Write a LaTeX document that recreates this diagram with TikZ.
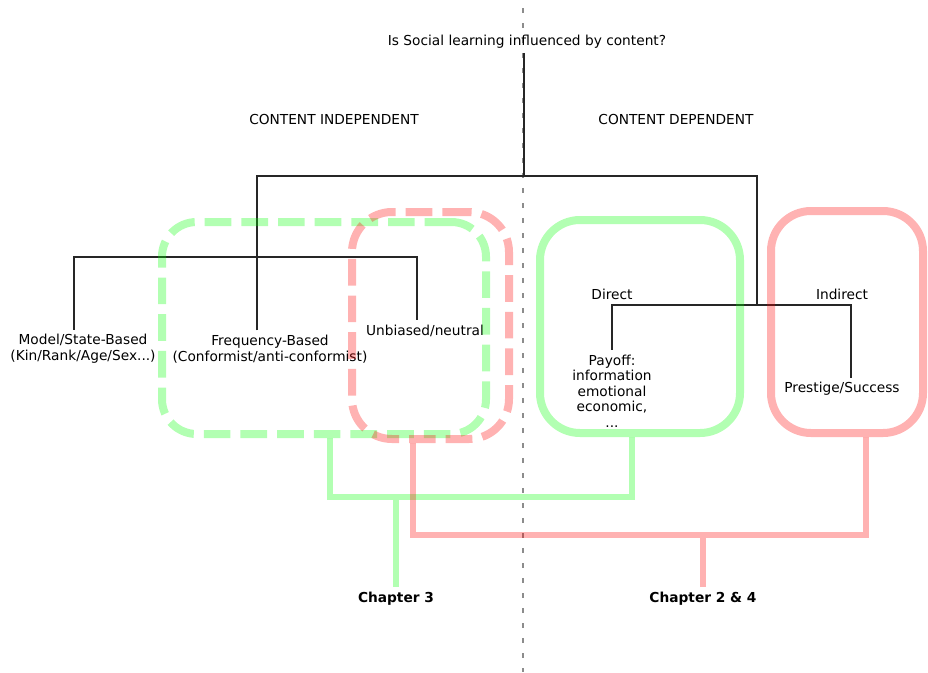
\documentclass[tikz,border=0pt]{standalone}
\usepackage{fontspec}
\setmainfont{DejaVu Sans}
\usetikzlibrary{fit}

\tikzset{
	txt/.style={align=center, font=\fontsize{10.3}{11.7}\selectfont},
	chap/.style={align=center, font=\fontsize{10.3}{11.7}\selectfont\bfseries},
	treeline/.style={draw=black!85, line width=0.9pt},
	divider/.style={draw=black!45, line width=1.6pt, dash pattern=on 3.75pt off 7.5pt},
	gbox/.style={draw=green, draw opacity=0.3, line width=6pt, inner sep=0pt},
	rbox/.style={draw=red, draw opacity=0.3, line width=6pt, inner sep=0pt},
	dashbox/.style={dash pattern=on 20pt off 7.5pt},
	glink/.style={draw=green, draw opacity=0.3, line width=4.5pt},
	rlink/.style={draw=red, draw opacity=0.3, line width=4.5pt},
}

\begin{document}
\begin{tikzpicture}[x=0.75pt, y=-0.75pt]
	\useasboundingbox (0,0) rectangle (928,672);
	
	% middle split
	\coordinate (top) at (523,8);
	\coordinate (bottom) at (523,672);
	\draw[divider] (top) -- (bottom);
	
	\node[txt] (q) at (527,41.5) {Is Social learning influenced by content?};
	\node[txt] (ind) at (334,119) {CONTENT INDEPENDENT};
	\node[txt] (dep) at (676,119) {CONTENT DEPENDENT};
	
	\node[txt] (m1) at (83,349) {Model/State-Based\\(Kin/Rank/Age/Sex...)};
	\node[txt] (f1) at (270,349) {Frequency-Based\\(Conformist/anti-conformist)};
	\node[txt] (u1) at (425,331) {Unbiased/neutral};
	
	\node[txt] (d1) at (612,294) {Direct};
	\node[txt] (i1) at (842,294) {Indirect};
	\node[txt] (p1) at (612,391) {Payoff:\\information\\emotional\\economic,\\...};
	\node[txt] (s1) at (842,389) {Prestige/Success};
	
	\node[chap] (c3) at (396,598.5) {Chapter 3};
	\node[chap] (c24) at (703,598.5) {Chapter 2 \& 4};
	
	% tree
	\coordinate (t0) at (524,176);
	\coordinate (t1) at (257,257);
	\coordinate (t2) at (757,305);
	\draw[treeline] (q.south -| t0) -- (t0);
	\draw[treeline] (f1.north -| t1) -- (t1) |- (t0) -| (t2);
	\draw[treeline] ([xshift=-6.75pt]m1.north) |- (t1) -| ([xshift=-6pt]u1.north);
	\draw[treeline] (p1.north) |- (t2) -| ([xshift=6.75pt]s1.north);
	
	% groups
	\node[gbox, dashbox, rounded corners=26pt, fit={(162,222) (486,434)}] (A) {};
	\node[rbox, dashbox, rounded corners=30pt, fit={(352,212) (509,439)}] (B) {};
	\node[gbox, rounded corners=30pt, fit={(540,220) (740,433)}] (C) {};
	\node[rbox, rounded corners=30pt, fit={(771,211) (923,433)}] (D) {};
	
	% chapters
	\coordinate (g1) at (330,497);
	\coordinate (g2) at (632,497);
	\coordinate (r1) at (413,535);
	\coordinate (r2) at (866,535);
	\draw[glink] (A.south -| g1) |- (g2) -- (C.south -| g2)
		(c3.north) -- (c3.north |- g1);
	\draw[rlink] (B.south -| r1) |- (r2) -- (D.south -| r2)
		(c24.north) -- (c24.north |- r1);
\end{tikzpicture}
\end{document}
